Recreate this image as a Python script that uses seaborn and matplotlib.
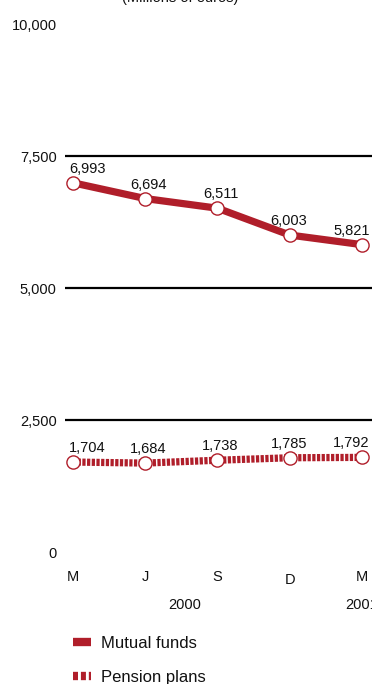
import matplotlib
matplotlib.use("Agg")
import matplotlib.pyplot as plt
from matplotlib.lines import Line2D
import seaborn as sns
import pandas as pd

months = ["M", "J", "S", "D", "M"]
years = ["2000", "2001"]
mutual_funds = [6993, 6694, 6511, 6003, 5821]
pension_plans = [1704, 1684, 1738, 1785, 1792]
y_ticks = [0, 2500, 5000, 7500, 10000]
series_names = ["Mutual funds", "Pension plans"]

RED = "#b01e2a"
INK = "#111111"

sns.set_theme(style="white")
plt.rcParams["font.family"] = ["Liberation Sans Narrow", "Liberation Sans", "DejaVu Sans"]

df = pd.DataFrame({
    "x": list(range(len(months))) * 2,
    "value": mutual_funds + pension_plans,
    "series": [series_names[0]] * len(months) + [series_names[1]] * len(months),
})

fig = plt.figure(figsize=(3.72, 6.84), dpi=100)
ax = fig.add_axes([65 / 372, 132 / 684, 307 / 372, 528 / 684])

sns.lineplot(data=df, x="x", y="value", hue="series", style="series",
             palette=[RED, RED], dashes=[(None, None), (0.45, 0.2)],
             markers=["o", "o"], linewidth=5.2, markersize=9.5,
             markerfacecolor="white", markeredgecolor=RED, markeredgewidth=1,
             legend=False, ax=ax)
for ln in ax.get_lines():
    ln.set_dash_capstyle("butt")
    ln.set_solid_capstyle("butt")

ax.set_xlim(-0.11, 4.138)
ax.set_ylim(0, 10000)
ax.set_yticks(y_ticks)
ax.set_yticklabels([f"{v:,}" for v in y_ticks], fontsize=10.5, color=INK)
ax.tick_params(axis="y", length=0, pad=6)
ax.set_xticks([])
for yv in y_ticks[1:-1]:
    ax.axhline(yv, color="black", linewidth=1.6, zorder=0)
for s in ax.spines.values():
    s.set_visible(False)
ax.set_xlabel("")
ax.set_ylabel("")

# value labels above each point
label_dx = [14, 3, 3, -1, -10]
for series in (mutual_funds, pension_plans):
    for i, v in enumerate(series):
        ax.annotate(f"{v:,}", (i, v), xytext=(label_dx[i] * 0.75, 10),
                    textcoords="offset points", ha="center", va="center",
                    fontsize=10.5, color=INK)

# month labels and years below the plot
for i, m in enumerate(months):
    ax.annotate(m, (i, 0), xytext=(0, -18 if m != "D" else -20),
                textcoords="offset points", ha="center", va="center",
                fontsize=10.5, color=INK)
ax.annotate(years[0], (1.55, 0), xytext=(0, -38), textcoords="offset points",
            ha="center", va="center", fontsize=10.5, color=INK)
ax.annotate(years[1], (4, 0), xytext=(0, -38), textcoords="offset points",
            ha="center", va="center", fontsize=10.5, color=INK)

fig.text(180 / 372, 1 - (-2) / 684, "(Millions of euros)", ha="center",
         va="center", fontsize=10.5, color=INK)

# legend
handles = [
    Line2D([], [], color=RED, linewidth=6, solid_capstyle="butt"),
    Line2D([], [], color=RED, linewidth=6, dashes=(0.6, 0.35), dash_capstyle="butt"),
]
fig.legend(handles, series_names, loc="upper left",
           bbox_to_anchor=(58 / 372, 1 - 621 / 684), frameon=False,
           handlelength=1.1, handletextpad=0.6, labelspacing=1.15, fontsize=12,
           labelcolor=INK)

fig.savefig("out.png", dpi=100)
